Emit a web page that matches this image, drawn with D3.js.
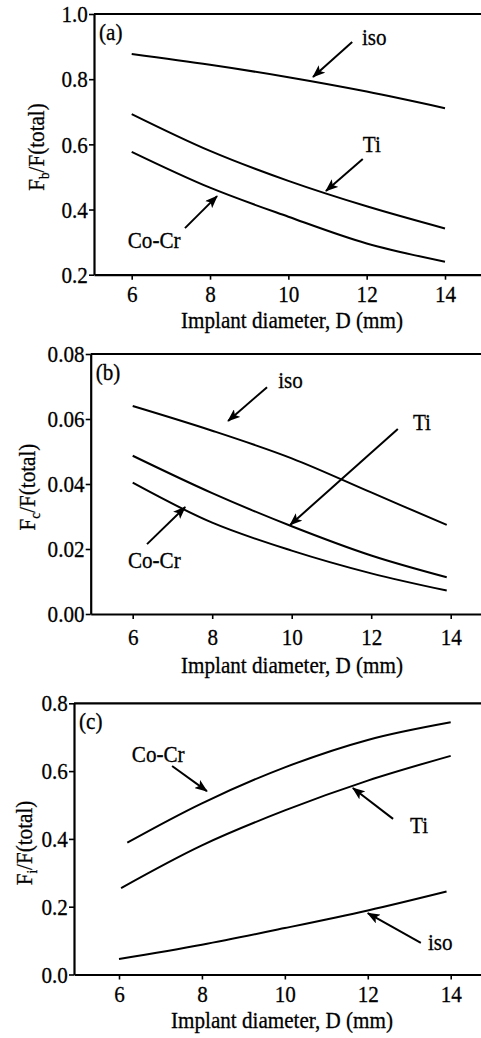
<!DOCTYPE html>
<html>
<head>
<meta charset="utf-8">
<script src="https://cdn.jsdelivr.net/npm/d3@7"></script>
<style>
  body { margin: 0; background: #fff; }
  svg { display: block; }
  svg text { font-family: 'Liberation Serif', 'DejaVu Serif', serif; fill: #000; stroke: #000; stroke-width: 0.3px; }
</style>
</head>
<body>
<div class="chartBox"></div>
<script>
// x values (implant diameter, mm)
var xTicks = [6, 8, 10, 12, 14];
var diameters = [6, 8, 10, 12, 14];

// (a) Fb/F(total)
var fbTicks = [0.2, 0.4, 0.6, 0.8, 1.0];
var fbIso  = [0.877, 0.844, 0.806, 0.762, 0.711];
var fbTi   = [0.693, 0.580, 0.488, 0.410, 0.342];
var fbCoCr = [0.577, 0.467, 0.378, 0.296, 0.240];

// (b) Fc/F(total)
var fcTicks = [0, 0.02, 0.04, 0.06, 0.08];
var fcX    = [6, 8, 10, 12, 13.9];
var fcIso  = [0.0640, 0.0564, 0.0479, 0.0374, 0.0274];
var fcTi   = [0.0487, 0.0372, 0.0270, 0.0180, 0.0113];
var fcCoCr = [0.0404, 0.0281, 0.0195, 0.0125, 0.0072];

// (c) Fi/F(total)
var fiTicks = [0, 0.2, 0.4, 0.6, 0.8];
var fiCoCrX = [6.2, 8, 10, 12, 14];
var fiCoCr  = [0.389, 0.505, 0.611, 0.692, 0.744];
var fiTiX   = [6.05, 8, 10, 12, 14];
var fiTi    = [0.255, 0.381, 0.484, 0.572, 0.645];
var fiIsoX  = [6, 8, 10, 12, 13.9];
var fiIso   = [0.046, 0.088, 0.137, 0.189, 0.245];

// arrow labels, in data units: [label, textX, textY, fromX, fromY, toX, toY]
var notesA = [['iso', 11.88, 0.905, 11.63, 0.914, 10.63, 0.807],
              ['Ti', 11.9, 0.576, 11.9, 0.555, 10.96, 0.457],
              ['Co-Cr', 5.9, 0.282, 7.36, 0.343, 8.18, 0.441]];
var notesB = [['iso', 9.66, 0.0695, 9.38, 0.0698, 8.40, 0.0594],
              ['Ti', 13.05, 0.0566, 12.67, 0.0569, 9.96, 0.0274],
              ['Co-Cr', 5.88, 0.0142, 6.36, 0.0215, 7.32, 0.0329]];
var notesC = [['Co-Cr', 6.31, 0.627, 7.28, 0.615, 8.12, 0.541],
              ['Ti', 13.02, 0.417, 12.61, 0.459, 11.64, 0.55],
              ['iso', 13.45, 0.072, 13.28, 0.093, 12.0, 0.181]];

var W = 481, H = 1038;
var squeeze = 'scale(0.88,1)';

var svg = d3.select('.chartBox')
  .append('svg')
  .attr('width', W)
  .attr('height', H);

svg.append('defs').append('marker')
  .attr('id', 'head')
  .attr('markerUnits', 'userSpaceOnUse')
  .attr('markerWidth', 13)
  .attr('markerHeight', 10)
  .attr('refX', 12)
  .attr('refY', 5)
  .attr('orient', 'auto')
  .append('path')
  .attr('d', 'M0,0 L13,5 L0,10 L3,5 Z')
  .attr('fill', '#000');

function zip(xs, ys) {
  return xs.map(function(d, i) { return [d, ys[i]]; });
}

function drawPanel(cfg) {
  var k = (cfg.x14 - cfg.x6) / 8;
  var x = d3.scaleLinear()
    .domain([6 - (cfg.x6 - cfg.left) / k, 14 + (W - cfg.x14) / k])
    .range([cfg.left, W]);
  var y = d3.scaleLinear().domain(cfg.yDomain).range([cfg.bottom, cfg.top]);

  var g = svg.append('g');

  g.append('line')
    .attr('x1', cfg.left).attr('x2', W)
    .attr('y1', cfg.top).attr('y2', cfg.top)
    .attr('stroke', '#000').attr('stroke-width', 2.2);

  var ax = g.append('g')
    .attr('transform', 'translate(0,' + cfg.bottom + ')')
    .call(d3.axisBottom(x).tickValues(xTicks).tickSize(5).tickSizeOuter(0).tickPadding(cfg.xPad));
  var ay = g.append('g')
    .attr('transform', 'translate(' + cfg.left + ',0)')
    .call(d3.axisLeft(y).tickValues(cfg.yTicks).tickFormat(d3.format(cfg.fmt))
      .tickSize(5).tickSizeOuter(0).tickPadding(2));

  [ax, ay].forEach(function(a) {
    a.attr('font-family', null).attr('font-size', null);
    a.select('.domain').attr('stroke', '#000').attr('stroke-width', 2.2);
    a.selectAll('.tick line').attr('stroke', '#000').attr('stroke-width', 1.6);
    a.selectAll('.tick text')
      .style('font-size', '24px')
      .attr('transform', squeeze);
  });

  var line = d3.line()
    .x(function(d) { return x(d[0]); })
    .y(function(d) { return y(d[1]); })
    .curve(d3.curveCatmullRom.alpha(0.5));

  g.selectAll('path.curve')
    .data(cfg.series)
    .enter()
    .append('path')
    .attr('class', 'curve')
    .attr('d', line)
    .attr('fill', 'none')
    .attr('stroke', '#000')
    .attr('stroke-width', 2);

  g.selectAll('line.arrow')
    .data(cfg.notes)
    .enter()
    .append('line')
    .attr('class', 'arrow')
    .attr('x1', function(d) { return x(d[3]); })
    .attr('y1', function(d) { return y(d[4]); })
    .attr('x2', function(d) { return x(d[5]); })
    .attr('y2', function(d) { return y(d[6]); })
    .attr('stroke', '#000')
    .attr('stroke-width', 2)
    .attr('marker-end', 'url(#head)');

  g.selectAll('text.note')
    .data(cfg.notes)
    .enter()
    .append('text')
    .attr('class', 'note')
    .attr('transform', function(d) {
      return 'translate(' + x(d[1]) + ',' + y(d[2]) + ') ' + squeeze;
    })
    .style('font-size', '24px')
    .text(function(d) { return d[0]; });

  // panel tag
  g.append('text')
    .attr('transform', 'translate(' + (cfg.left + 5) + ',' + (cfg.top + 26) + ') ' + squeeze)
    .style('font-size', '24px')
    .text(cfg.tag);

  // x title
  g.append('text')
    .attr('transform', 'translate(' + cfg.xTitle[0] + ',' + cfg.xTitle[1] + ') ' + squeeze)
    .attr('text-anchor', 'middle')
    .style('font-size', '24px')
    .text('Implant diameter, D (mm)');

  // y title with subscript
  var yt = g.append('text')
    .attr('transform', 'translate(' + cfg.yTitle[0] + ',' + cfg.yTitle[1] + ') rotate(-90) ' + squeeze)
    .attr('text-anchor', 'middle')
    .attr('dy', '0.35em')
    .style('font-size', '24px');
  yt.append('tspan').text('F');
  yt.append('tspan').style('font-size', '15px').attr('dy', 5).text(cfg.sub);
  yt.append('tspan').attr('dy', -5).text('/F(total)');
}

drawPanel({
  left: 94, x6: 131.7, x14: 445, top: 14, bottom: 274.7,
  yDomain: [0.2, 1.0], yTicks: fbTicks, fmt: '.1f', xPad: 5,
  series: [zip(diameters, fbIso), zip(diameters, fbTi), zip(diameters, fbCoCr)],
  notes: notesA, tag: '(a)', sub: 'b',
  xTitle: [292, 328], yTitle: [36, 147]
});

drawPanel({
  left: 90.7, x6: 132.7, x14: 450.7, top: 354, bottom: 614,
  yDomain: [0, 0.08], yTicks: fcTicks, fmt: '.2f', xPad: 9,
  series: [zip(fcX, fcIso), zip(fcX, fcTi), zip(fcX, fcCoCr)],
  notes: notesB, tag: '(b)', sub: 'c',
  xTitle: [292, 673], yTitle: [27, 487]
});

drawPanel({
  left: 74, x6: 119, x14: 450.7, top: 703.3, bottom: 974.5,
  yDomain: [0, 0.8], yTicks: fiTicks, fmt: '.1f', xPad: 5,
  series: [zip(fiCoCrX, fiCoCr), zip(fiTiX, fiTi), zip(fiIsoX, fiIso)],
  notes: notesC, tag: '(c)', sub: 'i',
  xTitle: [282, 1028], yTitle: [24, 843]
});
</script>
</body>
</html>
